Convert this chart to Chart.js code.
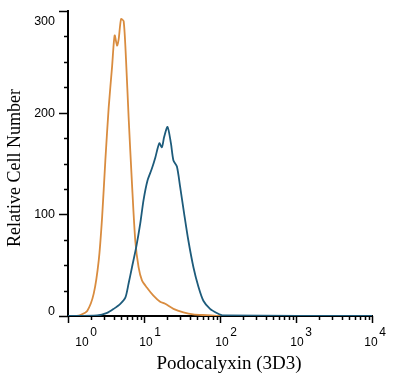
<!DOCTYPE html>
<html>
<head>
<meta charset="utf-8">
<script src="https://cdn.jsdelivr.net/npm/chart.js@4/dist/chart.umd.min.js"></script>
<style>
  html, body { margin: 0; padding: 0; background: #fff; }
  canvas { display: block; }
</style>
</head>
<body>
<canvas id="histo" width="400" height="378"></canvas>
<script>
// Flow histogram — isotype (orange) vs Podocalyxin stain (blue), log x-axis.

// ── Data ──────────────────────────────────────────────────────────────────────
const isoX = [1, 1.3, 1.46, 1.79, 2.18, 2.54, 2.81, 3.1, 3.43, 3.8, 4.11, 4.42, 4.64, 4.99, 5.4, 5.8, 6.27, 6.95, 7.68, 8.48, 9.4, 10.9, 13.3, 16.3, 19, 24.4, 33, 44.3, 67, 100, 10000];
const isoY = [0, 0, 1, 5, 22, 55, 97, 153, 205, 245, 276, 266, 272, 292, 290, 252, 196, 130, 74, 48, 35, 28, 20, 14, 12, 7, 3.5, 1.5, 0.8, 0, 0];

const podoX = [1, 2.42, 3.27, 3.99, 4.88, 5.68, 6.27, 6.95, 7.91, 8.93, 9.86, 11.1, 12.7, 14.1, 15.9, 17.2, 18.4, 20.4, 22.6, 24.4, 27.1, 29.9, 33.7, 38.4, 44.7, 51.9, 60.4, 74, 90.6, 110, 10000];
const podoY = [0, 0.5, 3, 7, 12, 18, 32, 48, 68, 91, 114, 133, 145, 156, 170, 166, 176, 186, 170, 153, 147, 127, 101, 74, 48, 29, 15, 7, 3, 0.5, 0];

const yLabels = [0, 100, 200, 300];
const yLabelShift = [-4, 0, 1, 11];   // end labels pulled inward like the original
const xDecades = [1, 10, 100, 1000, 10000];
const xExponents = ['0', '1', '2', '3', '4'];
const xLabelShift = [14, 2, 2, 1, -1];
const xTitle = 'Podocalyxin (3D3)';
const yTitle = 'Relative Cell Number';

const ORANGE = '#D98C3F';
const BLUE = '#1D5B7B';
const SANS = '"Liberation Sans", Arial, sans-serif';
const SERIF = '"Liberation Serif", "Times New Roman", serif';

const toPoints = (xs, ys) => xs.map((x, i) => ({ x, y: ys[i] }));

// ── Tick marks, labels, titles (major/minor lengths differ, so drawn here) ───
const axisMarks = {
  id: 'axisMarks',
  afterDraw(chart) {
    const { ctx, scales: { x, y } } = chart;
    const yRight = y.right;
    const xTop = x.top;
    ctx.save();
    ctx.strokeStyle = '#000';
    ctx.lineWidth = 1.5;

    for (let v = 0; v <= 300; v += 25) {
      const py = Math.round(y.getPixelForValue(v)) + 0.5;
      const len = v % 100 === 0 ? 9 : 4;
      ctx.beginPath(); ctx.moveTo(yRight - len, py); ctx.lineTo(yRight, py); ctx.stroke();
    }

    xDecades.forEach((d, i) => {
      const steps = i < xDecades.length - 1 ? 9 : 1;
      for (let k = 1; k <= steps; k++) {
        const px = Math.round(x.getPixelForValue(d * k)) + 0.5;
        const len = k === 1 ? 7 : 4;
        ctx.beginPath(); ctx.moveTo(px, xTop); ctx.lineTo(px, xTop + len); ctx.stroke();
      }
    });

    ctx.fillStyle = '#000';
    ctx.font = '12.5px ' + SANS;
    ctx.textAlign = 'right';
    ctx.textBaseline = 'middle';
    yLabels.forEach((v, i) => {
      ctx.fillText(String(v), yRight - 13, y.getPixelForValue(v) + yLabelShift[i]);
    });

    ctx.font = '12px ' + SANS;
    ctx.textBaseline = 'alphabetic';
    ctx.textAlign = 'left';
    xDecades.forEach((d, i) => {
      const cx = x.getPixelForValue(d) + xLabelShift[i];
      const w = ctx.measureText('10').width;
      ctx.fillText('10', cx - w / 2, 346);
      ctx.fillText(xExponents[i], cx + w / 2 + 1.5, 336);
    });

    ctx.textAlign = 'center';
    ctx.font = '19px ' + SERIF;
    ctx.fillText(xTitle, 229, 369);
    ctx.translate(20, 168);
    ctx.rotate(-Math.PI / 2);
    ctx.font = '18px ' + SERIF;
    ctx.fillText(yTitle, 0, 0);
    ctx.restore();
  },
};

// ── Chart ─────────────────────────────────────────────────────────────────────
new Chart(document.getElementById('histo'), {
  type: 'line',
  data: {
    datasets: [
      { label: 'Podocalyxin (3D3)', data: toPoints(podoX, podoY), borderColor: BLUE, borderWidth: 1.8, pointRadius: 0, tension: 0.25 },
      { label: 'Isotype', data: toPoints(isoX, isoY), borderColor: ORANGE, borderWidth: 1.8, pointRadius: 0, tension: 0.25 },
    ],
  },
  options: {
    responsive: false,
    animation: false,
    layout: { padding: { top: 11, right: 28, left: 0, bottom: 0 } },
    plugins: { legend: { display: false }, tooltip: { enabled: false } },
    scales: {
      x: {
        type: 'logarithmic', min: 1, max: 10000,
        grid: { display: false, drawTicks: false },
        border: { display: true, color: '#000', width: 2 },
        ticks: { display: false },
        afterFit: (s) => { s.height = 62; },
      },
      y: {
        type: 'linear', min: 0, max: 300,
        grid: { display: false, drawTicks: false },
        border: { display: true, color: '#000', width: 2 },
        ticks: { display: false },
        afterFit: (s) => { s.width = 68; },
      },
    },
  },
  plugins: [axisMarks],
});
</script>
</body>
</html>
